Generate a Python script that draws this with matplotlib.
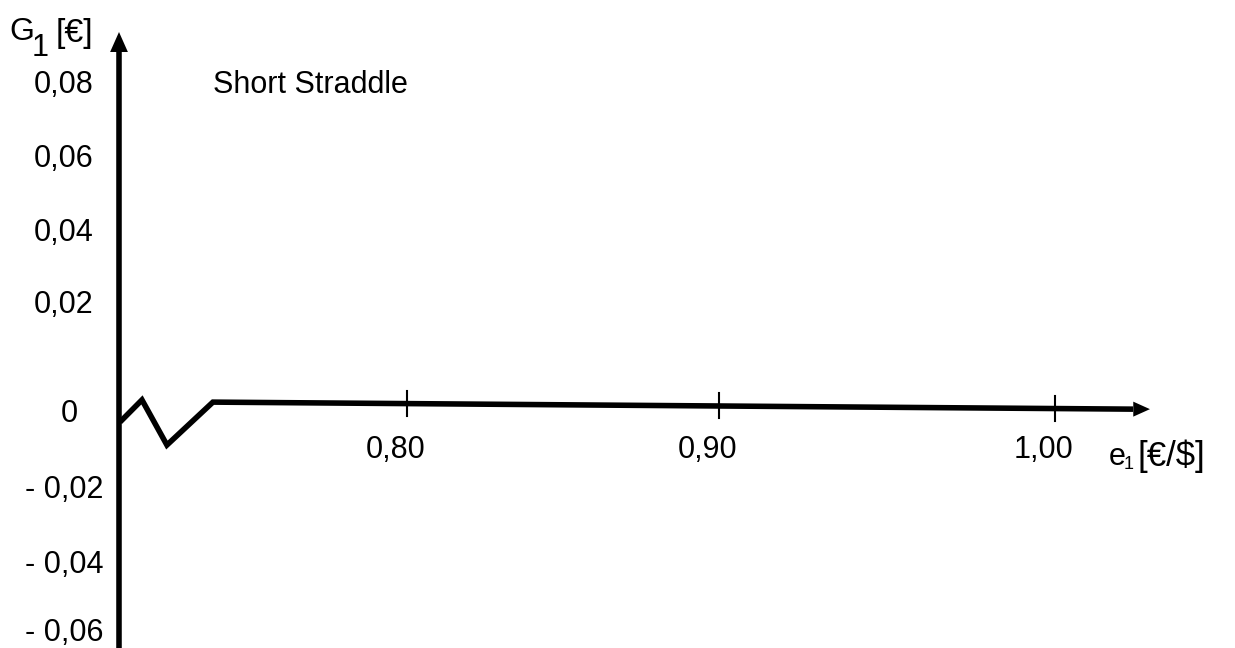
import numpy as np
import matplotlib
matplotlib.use('Agg')
import matplotlib.pyplot as plt

plt.rcParams['font.family'] = ['Liberation Sans', 'DejaVu Sans']

# payoff line of the short straddle (e1 in EUR/USD, G1 in EUR)
e1 = [0.7114, 0.7182, 0.7259, 0.7401, 1.0241]
G1 = [-0.0030, 0.0030, -0.0092, 0.0024, 0.0005]
arrow_tip_e1 = 1.0293

xtick_pos = [0.80, 0.8963, 1.00]
xtick_lab = ['0,80', '0,90', '1,00']

ylab_text = ['0,08', '0,06', '0,04', '0,02', '0', '- 0,02', '- 0,04', '- 0,06']
ylab_pos = [0.0859, 0.0659, 0.0459, 0.0265, -0.0030, -0.0235, -0.0438, -0.0622]

# picture scale: 3240 px per EUR/USD, 3700 px per EUR, origin at px (407, 411)
def at(px, py):
	return 0.8 + (px - 407) / 3240, (411 - py) / 3700

fig = plt.figure(figsize=(12.35, 6.48), dpi=100)
ax = fig.add_axes([0, 0, 1, 1])
x0, y0 = at(0, 648)
x1, y1 = at(1235, 0)
ax.set_xlim(x0, x1)
ax.set_ylim(y0, y1)
ax.set_xticks([])
ax.set_yticks([])
for s in ['top', 'right', 'bottom']:
	ax.spines[s].set_visible(False)

# vertical axis with arrow
yaxis_x, _ = at(119, 0)
_, head_base = at(0, 52)
_, head_tip = at(0, 32)
ax.spines['left'].set_position(('data', yaxis_x))
ax.spines['left'].set_linewidth(4)
ax.spines['left'].set_bounds(y0, head_base)
ax.annotate('', xy=(yaxis_x, head_tip), xytext=(yaxis_x, head_base),
	arrowprops=dict(arrowstyle='-|>,head_length=0.72,head_width=0.32', color='k',
		lw=0, mutation_scale=20, shrinkA=0, shrinkB=0))

# the payoff line doubles as the e1 axis
ax.plot(e1, G1, color='k', lw=4, solid_joinstyle='miter', solid_capstyle='butt')
ax.annotate('', xy=(arrow_tip_e1, G1[-1]), xytext=(e1[-1], G1[-1]),
	arrowprops=dict(arrowstyle='-|>,head_length=0.6,head_width=0.27', color='k',
		lw=0, mutation_scale=20, shrinkA=0, shrinkB=0))

# ticks on the e1 axis
half = 12.5 / 3700
for t in xtick_pos:
	c = np.interp(t, e1, G1)
	ax.plot([t, t], [c - half, c + half], color='k', lw=1.5)
lab_y = at(0, 458)[1]
for t, l in zip(xtick_pos, xtick_lab):
	ax.text(t - 0.0035, lab_y, l, fontsize=22, ha='center', va='baseline')

for p, l in zip(ylab_pos, ylab_text):
	# the zero label sits a bit further right than the others
	lab_x = at(69 if l == '0' else 64, 0)[0]
	ax.text(lab_x, p, l, fontsize=22, ha='center', va='baseline')

ax.text(*at(213, 93), 'Short Straddle', fontsize=22, ha='left', va='baseline')

# axis titles
ax.text(*at(9, 40), 'G', fontsize=23, ha='left', va='baseline')
ax.text(*at(32, 56), '1', fontsize=22, ha='left', va='baseline')
ax.text(*at(56, 42), '[€]', fontsize=24.5, ha='left', va='baseline')
ax.text(*at(1109, 465), 'e', fontsize=22, ha='left', va='baseline')
ax.text(*at(1124, 469), '1', fontsize=13, ha='left', va='baseline')
ax.text(*at(1137, 466), '[€/$]', fontsize=25, ha='left', va='baseline')

plt.savefig('out.png', dpi=100)
